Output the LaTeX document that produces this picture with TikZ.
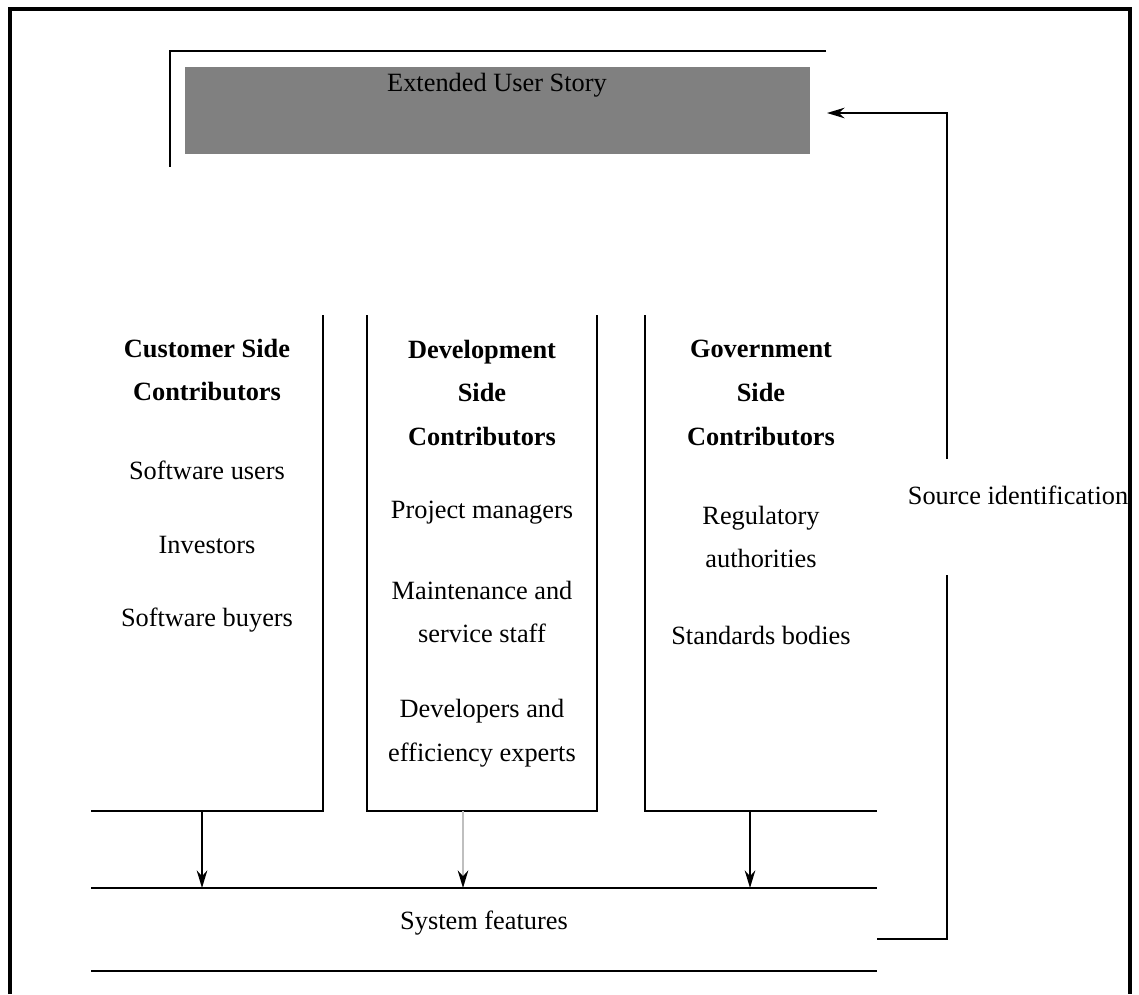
\documentclass[tikz,border=0pt]{standalone}
\usepackage{fontspec}
\setmainfont{Liberation Serif}
\usetikzlibrary{arrows.meta}
\begin{document}
\begin{tikzpicture}[x=0.02cm,y=-0.02cm,line width=1.2pt,
	tip/.style={-{Stealth[length=10pt,width=6pt,black]}},
	lbl/.style={align=center,inner sep=0pt,font=\fontsize{15}{25}\selectfont},
	hd/.style={lbl,font=\fontsize{15}{25}\selectfont\bfseries}]
	\useasboundingbox (0,0) rectangle (1139,994);
	\draw[line width=1.8pt](10,994)--(10,9)--(1130,9)--(1130,994);
	\draw(826,51)--(170,51)--(170,167);
	\node[fill=black!50,minimum width=12.5cm,minimum height=1.74cm,inner sep=0pt](story) at (497.5,110.5){};
	\node[lbl] (storytxt) at (497,85) {Extended User Story};
	% three columns
	\draw(91,811)-|(323,315);
	\draw(367,315)|-(597,811)--(597,315);
	\draw(645,315)|-(877,811);
	\node[hd] (cushd) at (207,370) {Customer Side\\Contributors};
	\node[lbl] (users) at (207,470) {Software users};
	\node[lbl] (invest) at (207,545) {Investors};
	\node[lbl] (buyers) at (207,620) {Software buyers};
	\node[hd] (devhd) at (482,393) {Development\\Side\\Contributors};
	\node[lbl] (pm) at (482,513) {Project managers};
	\node[lbl] (maint) at (482,612) {Maintenance and\\service staff};
	\node[lbl] (devs) at (482,733) {Developers and\\efficiency experts};
	\node[hd] (govhd) at (761,393) {Government\\Side\\Contributors};
	\node[lbl] (reg) at (761,537) {Regulatory\\authorities};
	\node[lbl] (std) at (761,635) {Standards bodies};
	% system features
	\draw(91,888)--(877,888);
	\draw(91,971)--(877,971);
	\node[lbl] (sysf) at (484,923) {System features};
	\foreach \n/\x/\c in {cus/202/black,dev/463/black!25,gov/750/black}{
		\coordinate (\n top) at (\x,811);
		\coordinate (\n bot) at (\x,888);
		\draw[tip,draw=\c](\n top)--(\n bot);
	}
	% feedback
	\node[lbl] (srcid) at (1018,495) {Source identification};
	\coordinate (fbin) at (877,939);
	\coordinate (fblo) at (947,575);
	\coordinate (fbhi) at (947,459);
	\draw(fbin)-|(fblo);
	\draw[tip](fbhi)|-([xshift=0.32cm,yshift=-0.05cm]story.east);
\end{tikzpicture}
\end{document}
